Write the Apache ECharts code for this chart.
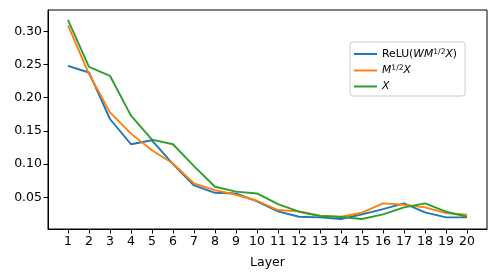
<!DOCTYPE html>
<html><head><meta charset="utf-8">
<script src="https://cdn.jsdelivr.net/npm/echarts@6/dist/echarts.min.js"></script>
<style>html,body{margin:0;padding:0;background:#fff}#c{width:495px;height:278px}</style>
</head><body><div id="c"></div>
<script>
const layers = [1,2,3,4,5,6,7,8,9,10,11,12,13,14,15,16,17,18,19,20];
const reluVals = [0.248,0.238,0.168,0.130,0.136,0.100,0.068,0.057,0.056,0.044,0.029,0.021,0.020,0.0175,0.0245,0.0325,0.041,0.0275,0.020,0.020];
const mVals    = [0.309,0.236,0.178,0.146,0.121,0.101,0.071,0.061,0.054,0.045,0.031,0.029,0.0225,0.021,0.027,0.041,0.039,0.035,0.0265,0.024];
const xVals    = [0.317,0.2465,0.233,0.173,0.137,0.130,0.097,0.066,0.0587,0.056,0.040,0.0285,0.022,0.0205,0.0175,0.0245,0.035,0.041,0.0285,0.021];
const yTicks = [0.05,0.10,0.15,0.20,0.25,0.30];
const seriesNames = ['relu','m','x'];
const colors = ['#1f77b4','#ff7f0e','#2ca02c'];

const font = 'DejaVu Sans';
const chart = echarts.init(document.getElementById('c'), null, {renderer:'canvas'});
const mk = (vals) => layers.map((l,i)=>[l, vals[i]]);
const allVals = [reluVals, mVals, xVals];
chart.setOption({
  animation:false,
  grid:{left:48, right:8, top:10, bottom:49, show:true, borderColor:'#000', borderWidth:1, containLabel:false},
  legend:{
    orient:'vertical', left:350, top:42,
    itemWidth:23, itemHeight:2, itemGap:5,
    icon:'rect',
    padding:[6,8,4,4],
    borderColor:'#ccc', borderWidth:1, borderRadius:3,
    backgroundColor:'rgba(255,255,255,0.8)',
    data: seriesNames,
    textStyle:{fontFamily:font, fontSize:10.8, color:'#000',
      rich:{
        n:{fontFamily:font, fontSize:10.8, color:'#000'},
        i:{fontFamily:font, fontSize:10.8, fontStyle:'italic', color:'#000'},
        s:{fontFamily:font, fontSize:7.6, color:'#000', verticalAlign:'top', padding:[0,0,4,0]}
      }},
    formatter: function(name){
      if(name==='relu') return '{n|ReLU(}{i|WM}{s|1/2}{i|X}{n|)}';
      if(name==='m') return '{i|M}{s|1/2}{i|X}';
      return '{i|X}';
    }
  },
  xAxis:{
    type:'value', min:0.05, max:20.95,
    name:'Layer', nameLocation:'middle', nameGap:27,
    nameTextStyle:{fontFamily:font, fontSize:12.5, color:'#000'},
    axisLine:{show:true, onZero:false, lineStyle:{color:'#000', width:1}},
    axisTick:{show:true, length:4.5, lineStyle:{color:'#000'}, customValues:layers},
    axisLabel:{show:true, fontFamily:font, fontSize:12.5, color:'#000', margin:6, customValues:layers, formatter:v=>String(v)},
    splitLine:{show:false}
  },
  yAxis:{
    type:'value', min:0.0025, max:0.332,
    axisLine:{show:true, onZero:false, lineStyle:{color:'#000', width:1}},
    axisTick:{show:true, length:4.5, lineStyle:{color:'#000'}, customValues:yTicks},
    axisLabel:{show:true, fontFamily:font, fontSize:12.5, color:'#000', margin:6, customValues:yTicks, formatter:v=>v.toFixed(2)},
    splitLine:{show:false}
  },
  series: seriesNames.map((n,k)=>({
    name:n, type:'line', data:mk(allVals[k]), showSymbol:false, symbol:'none',
    lineStyle:{color:colors[k], width:1.9}, itemStyle:{color:colors[k]}, z:2+k
  }))
});
</script></body></html>
